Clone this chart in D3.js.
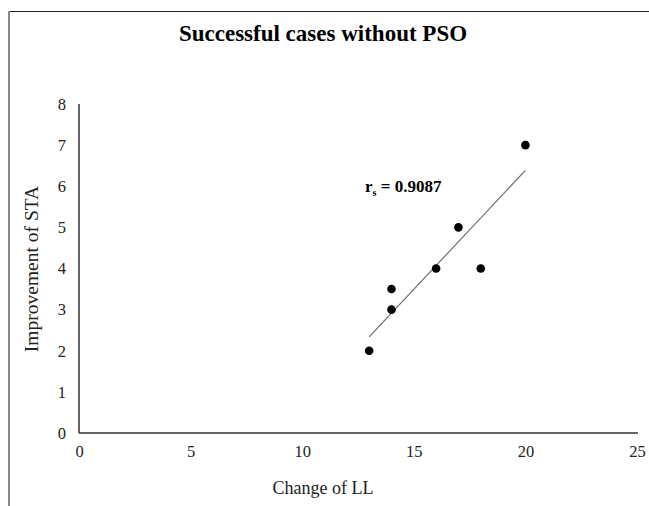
<!DOCTYPE html>
<html><head><meta charset="utf-8">
<script src="https://cdn.jsdelivr.net/npm/d3@7"></script>
<style>html,body{margin:0;padding:0;background:#fff;}svg{display:block;}</style>
</head><body>
<svg id="chart" width="649" height="506"></svg>
<script>
const changeLL = [13, 14, 14, 16, 17, 18, 20];
const improvementSTA = [2, 3, 3.5, 4, 5, 4, 7];
const xTicks = [0, 5, 10, 15, 20, 25];
const yTicks = [0, 1, 2, 3, 4, 5, 6, 7, 8];
const titleText = "Successful cases without PSO";
const xTitle = "Change of LL";
const yTitle = "Improvement of STA";
const rsValue = "0.9087";

const svg = d3.select("#chart");
const font = "'Liberation Serif','Times New Roman',serif";

// frame
svg.append("line").attr("x1",9).attr("x2",649).attr("y1",11.5).attr("y2",11.5).attr("stroke","#222").attr("stroke-width",1.2);
svg.append("line").attr("x1",9).attr("x2",9).attr("y1",11).attr("y2",506).attr("stroke","#888").attr("stroke-width",2);

const x = d3.scaleLinear().domain([0,25]).range([79,637]);
const y = d3.scaleLinear().domain([0,8]).range([433,104]);

const xAxis = svg.append("g").attr("transform","translate(0,433)")
  .call(d3.axisBottom(x).tickValues(xTicks).tickSize(0).tickPadding(12).tickFormat(d3.format("d")));
const yAxis = svg.append("g").attr("transform","translate(79,0)")
  .call(d3.axisLeft(y).tickValues(yTicks).tickSize(0).tickPadding(13).tickFormat(d3.format("d")));
[xAxis,yAxis].forEach(a=>{
  a.attr("font-family",font).attr("font-size",16.5);
  a.select(".domain").attr("stroke","#333").attr("stroke-width",1.5);
  a.selectAll("text").attr("fill","#222");
});
xAxis.select(".domain").attr("d","M79,0H638");
yAxis.select(".domain").attr("d","M0,104V433");

// trendline from linear regression of data
const n = changeLL.length;
const mx = d3.mean(changeLL), my = d3.mean(improvementSTA);
let sxy=0, sxx=0;
for(let i=0;i<n;i++){ sxy+=(changeLL[i]-mx)*(improvementSTA[i]-my); sxx+=(changeLL[i]-mx)**2; }
const slope = sxy/sxx, icpt = my - slope*mx;
const x0 = d3.min(changeLL), x1 = d3.max(changeLL);
svg.append("line")
  .attr("x1",x(x0)).attr("y1",y(icpt+slope*x0))
  .attr("x2",x(x1)).attr("y2",y(icpt+slope*x1))
  .attr("stroke","#666").attr("stroke-width",1.1);

svg.selectAll("circle.pt").data(changeLL.map((v,i)=>[v,improvementSTA[i]])).enter()
  .append("circle").attr("class","pt")
  .attr("cx",d=>x(d[0])).attr("cy",d=>y(d[1])).attr("r",4.3).attr("fill","#000");

// title
svg.append("text").attr("x",323).attr("y",41).attr("text-anchor","middle")
  .attr("font-family",font).attr("font-weight","bold").attr("font-size",23).attr("fill","#000").text(titleText);

// annotation
const ann = svg.append("text").attr("x",365).attr("y",192).attr("font-family",font)
  .attr("font-weight","bold").attr("font-size",17).attr("fill","#000");
ann.append("tspan").text("r");
ann.append("tspan").attr("font-size",10).attr("dy",4).text("s");
ann.append("tspan").attr("dy",-4).text(" = " + rsValue);

// axis titles
svg.append("text").attr("x",323).attr("y",494).attr("text-anchor","middle")
  .attr("font-family",font).attr("font-size",18).attr("fill","#222").text(xTitle);
svg.append("text").attr("transform","translate(38,269) rotate(-90)").attr("text-anchor","middle")
  .attr("font-family",font).attr("font-size",19.5).attr("fill","#222").text(yTitle);
</script>
</body></html>
